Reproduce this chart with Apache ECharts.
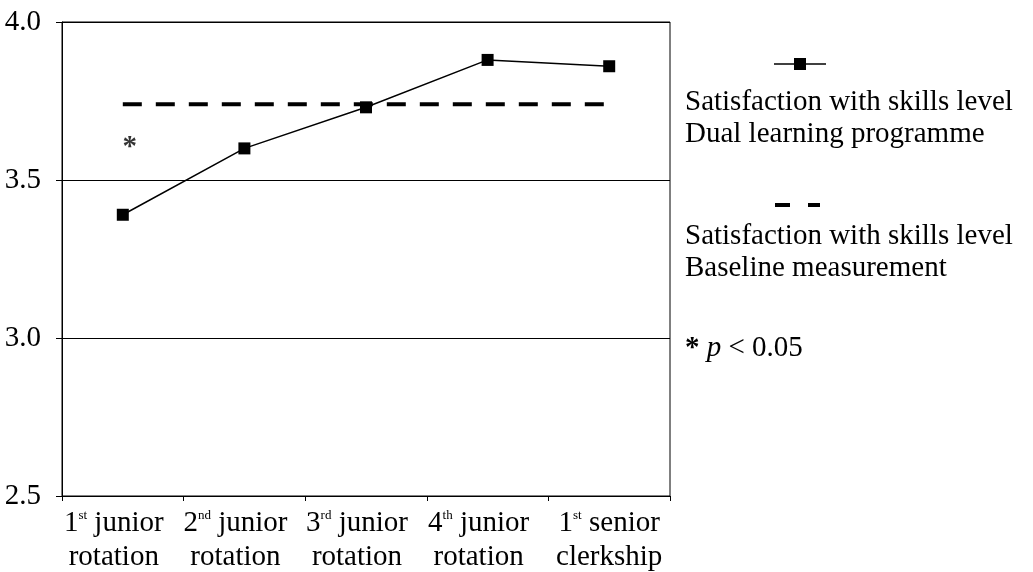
<!DOCTYPE html>
<html>
<head>
<meta charset="utf-8">
<script src="https://cdn.jsdelivr.net/npm/echarts@6/dist/echarts.min.js"></script>
<style>html,body{margin:0;padding:0;background:#fff;}#c{width:1033px;height:572px;}</style>
</head>
<body>
<div id="c"></div>
<script>
// ---- data ----
const ordinals = ['1', '2', '3', '4', '1'];
const suffixes = ['st', 'nd', 'rd', 'th', 'st'];
const line1 = ['junior', 'junior', 'junior', 'junior', 'senior'];
const line2 = ['rotation', 'rotation', 'rotation', 'rotation', 'clerkship'];
const categories = ['1st junior rotation', '2nd junior rotation', '3rd junior rotation', '4th junior rotation', '1st senior clerkship'];
const dualProgramme = [3.39, 3.60, 3.73, 3.88, 3.86];
const baselineValue = 3.74;
const baseline = categories.map(() => baselineValue);
const significance = [[0, 3.60]];
const yTicks = { min: 2.5, max: 4.0, interval: 0.5 };
const legendTexts = ['Satisfaction with skills level', 'Dual learning programme', 'Satisfaction with skills level', 'Baseline measurement'];

const FONT = 'Liberation Serif';
const FS = 29;
const chart = echarts.init(document.getElementById('c'), null, { renderer: 'canvas' });

const labelText = categories.map((c, i) => {
  const pad = i < 4 ? '{pad| }' : '';
  return '{n|' + ordinals[i] + '}{sup|' + suffixes[i] + '}{n| ' + line1[i] + '}' + pad + '\n{n|' + line2[i] + '}' + pad;
});

chart.setOption({
  animation: false,
  backgroundColor: '#fff',
  grid: { left: 62, right: 363, top: 22, bottom: 76, show: true, borderColor: '#000', borderWidth: 1, containLabel: false },
  xAxis: {
    type: 'category',
    data: categories,
    boundaryGap: true,
    axisLine: { lineStyle: { color: '#000', width: 1 } },
    axisTick: { show: true, length: 5, lineStyle: { color: '#000' } },
    axisLabel: {
      margin: 10,
      color: '#000',
      interval: 0,
      formatter: (v, i) => labelText[i],
      rich: {
        n: { fontFamily: FONT, fontSize: FS, color: '#000', lineHeight: 34 },
        sup: { fontFamily: FONT, fontSize: 13, color: '#000', lineHeight: 13, verticalAlign: 'top', padding: [3, 0, 0, 0] },
        pad: { fontFamily: FONT, fontSize: FS, width: 18, lineHeight: 34 }
      }
    },
    splitLine: { show: false }
  },
  yAxis: {
    type: 'value',
    min: yTicks.min, max: yTicks.max, interval: yTicks.interval,
    axisLine: { show: true, lineStyle: { color: '#000', width: 1 } },
    axisTick: { show: true, length: 6, lineStyle: { color: '#000' } },
    axisLabel: { color: '#000', fontFamily: FONT, fontSize: FS, margin: 21, formatter: v => v.toFixed(1) },
    splitLine: { show: true, lineStyle: { color: '#000', width: 1 } }
  },
  series: [
    {
      name: 'Baseline measurement',
      type: 'line',
      data: baseline,
      symbol: 'none',
      lineStyle: { color: '#000', width: 4, type: [19, 14] },
      z: 2
    },
    {
      name: 'Dual learning programme',
      type: 'line',
      data: dualProgramme,
      symbol: 'rect',
      symbolSize: 12,
      itemStyle: { color: '#000' },
      lineStyle: { color: '#000', width: 1.5 },
      z: 3
    },
    {
      type: 'scatter',
      data: significance,
      symbolSize: 0,
      label: { show: true, position: 'inside', offset: [7, -1], formatter: '*', color: '#000', fontFamily: FONT, fontSize: FS, fontWeight: 'bold' }
    }
  ],
  graphic: [
    { type: 'line', shape: { x1: 774, y1: 64, x2: 826, y2: 64 }, style: { stroke: '#000', lineWidth: 1.5 } },
    { type: 'rect', shape: { x: 794, y: 58, width: 12, height: 12 }, style: { fill: '#000' } },
    { type: 'text', left: 685, top: 86, style: { text: legendTexts[0] + '\n' + legendTexts[1], font: FS + 'px "' + FONT + '"', lineHeight: 32, fill: '#000' } },
    { type: 'rect', shape: { x: 775, y: 203, width: 15, height: 4 }, style: { fill: '#000' } },
    { type: 'rect', shape: { x: 808, y: 203, width: 12, height: 4 }, style: { fill: '#000' } },
    { type: 'text', left: 685, top: 220, style: { text: legendTexts[2] + '\n' + legendTexts[3], font: FS + 'px "' + FONT + '"', lineHeight: 32, fill: '#000' } },
    { type: 'text', left: 685, top: 334, style: { text: '{b|*}{a| }{i|p}{a| < 0.05}', rich: { b: { fontFamily: FONT, fontSize: FS, fontWeight: 'bold', color: '#000' }, a: { fontFamily: FONT, fontSize: FS, color: '#000' }, i: { fontFamily: FONT, fontSize: FS, fontStyle: 'italic', color: '#000' } } } }
  ]
});
</script>
</body>
</html>
